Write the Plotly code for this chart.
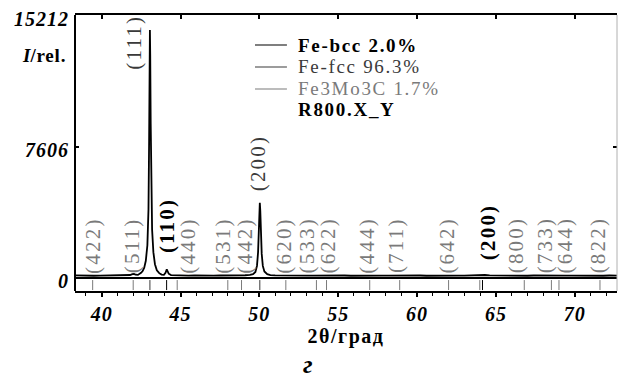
import plotly.graph_objects as go

# Measured diffraction pattern (2θ in degrees, intensity in counts)
two_theta = [
    38.3, 38.7, 39.1, 39.5, 39.9, 40.3, 40.7, 41.1, 41.5, 41.8, 41.95, 42.05, 42.15,
    42.3, 42.5, 42.6, 42.7, 42.8, 42.9, 42.97, 43.01, 43.04, 43.06, 43.08, 43.11,
    43.15, 43.2, 43.28, 43.38, 43.5, 43.65, 43.8,
    43.95, 44.05, 44.1, 44.13, 44.17, 44.25, 44.4, 44.7,
    45.1, 45.5, 45.9, 46.3, 46.7, 47.1, 47.5, 47.9, 48.3, 48.7, 49.1, 49.4,
    49.6, 49.75, 49.85, 49.92, 49.97, 50.01, 50.03, 50.06, 50.1, 50.15, 50.22,
    50.32, 50.5, 50.7,
    51.0, 51.4, 51.8, 52.2, 52.6, 53.0, 53.4, 53.8, 54.2, 54.6, 55.0, 55.4,
    55.8, 56.2, 56.6, 57.0, 57.4, 57.8, 58.2, 58.6, 59.0, 59.4, 59.8, 60.2,
    60.6, 61.0, 61.4, 61.8, 62.2, 62.6, 63.0, 63.4, 63.8, 64.1, 64.3, 64.6,
    65.0, 65.4, 65.8, 66.2, 66.6, 67.0, 67.4, 67.8, 68.2, 68.6, 69.0, 69.4,
    69.8, 70.2, 70.6, 71.0, 71.4, 71.8, 72.2, 72.7,
]
intensity = [
    150, 135, 145, 130, 140, 150, 135, 145, 160, 175, 230, 240, 190,
    180, 300, 400, 600, 1000, 1900, 4000, 8000, 12500, 14400, 13000, 9000,
    5000, 2800, 1500, 800, 450, 280, 200,
    180, 300, 450, 500, 420, 250, 170, 150,
    140, 135, 145, 130, 140, 135, 145, 140, 150, 150, 160, 180,
    220, 350, 700, 1500, 3000, 4100, 4370, 3900, 2600, 1400, 700,
    380, 220, 170,
    150, 140, 135, 145, 130, 140, 135, 145, 130, 140, 135, 145,
    130, 140, 135, 145, 130, 140, 135, 145, 130, 140, 135, 145,
    130, 140, 135, 145, 130, 140, 135, 145, 150, 190, 175, 150,
    140, 130, 145, 135, 140, 130, 145, 135, 140, 130, 145, 135,
    140, 130, 145, 135, 140, 130, 145, 135,
]

# Reflection positions and indices per phase
bcc_name = "Fe-bcc 2.0%"
bcc_pos = [44.12, 64.15]
bcc_hkl = ["(110)", "(200)"]

fcc_name = "Fe-fcc 96.3%"
fcc_pos = [43.06, 50.03]
fcc_hkl = ["(111)", "(200)"]

carb_name = "Fe3Mo3C 1.7%"
carb_pos = [39.43, 42.0, 44.79, 48.0, 48.87, 51.68, 53.62, 54.26, 57.0, 58.9,
            62.0, 63.98, 66.8, 68.52, 69.0, 71.6]
carb_hkl = ["(422)", "(511)", "(440)", "(531)", "(442)", "(620)", "(533)", "(622)",
            "(444)", "(711)", "(642)", "", "(800)", "(733)", "(644)", "(822)"]

sample_name = "R800.X_Y"

x_ticks = [40, 45, 50, 55, 60, 65, 70]
y_ticks = [0, 7606, 15212]
y_tick_text = ["0", "7606", "15212"]

# label placement: (x in 2θ, baseline intensity of the rotated label)
bcc_label_at = [(44.12, 1335), (64.48, 929)]
fcc_label_at = [(42.0, 11960), (49.9, 4935)]
carb_label_x = [39.45, 41.98, 45.47, 47.69, 49.08, 51.55, 53.0, 54.33, 56.81, 58.71,
                61.88, 64.0, 66.3, 68.08, 69.35, 71.44]

C_BCC = "#000000"
C_FCC = "#3a3a3a"
C_CARB = "#7a7a7a"
FONT = "Liberation Serif, serif"


def spaced(text, px=1.5):
    return f"<span style='letter-spacing:{px}px'>{text}</span>"


def bold_italic(text, px=1.0):
    return f"<b><i>{spaced(text, px)}</i></b>"


fig = go.Figure()

fig.add_trace(go.Scatter(
    x=two_theta, y=intensity, mode="lines",
    line=dict(color="black", width=1.8), showlegend=False, hoverinfo="skip",
))


def tick_segments(positions):
    xs, ys = [], []
    for p in positions:
        xs += [p, p, None]
        ys += [-120, -700, None]
    return xs, ys


phases = [
    (bcc_name, bcc_pos, C_BCC, True),
    (fcc_name, fcc_pos, C_FCC, False),
    (carb_name, carb_pos, C_CARB, False),
]
for name, pos, col, _ in phases:
    xs, ys = tick_segments(pos)
    fig.add_trace(go.Scatter(
        x=xs, y=ys, xaxis="x2", mode="lines",
        line=dict(color=col, width=1), name=name, showlegend=False, hoverinfo="skip",
    ))

HKL_SIZE = 21
HKL_GAP = 2.2
annotations = []
for (lx, ly), hkl in zip(bcc_label_at, bcc_hkl):
    annotations.append(dict(x=lx, y=ly, text=f"<b>{spaced(hkl, HKL_GAP)}</b>",
                            textangle=-90,
                            font=dict(size=HKL_SIZE, color=C_BCC, family=FONT)))
for (lx, ly), hkl in zip(fcc_label_at, fcc_hkl):
    annotations.append(dict(x=lx, y=ly, text=spaced(hkl, HKL_GAP), textangle=-90,
                            font=dict(size=HKL_SIZE, color=C_FCC, family=FONT)))
for lx, hkl in zip(carb_label_x, carb_hkl):
    if hkl:
        annotations.append(dict(x=lx, y=150, text=spaced(hkl, HKL_GAP), textangle=-90,
                                font=dict(size=HKL_SIZE, color=C_CARB, family=FONT)))
for a in annotations:
    a.update(xref="x", yref="y", showarrow=False, xanchor="center", yanchor="bottom")

# phase key: sample line + caption, drawn in paper coordinates
key_rows = [0.8913, 0.8116, 0.7319, 0.6558]
shapes = []
for (name, pos, col, bold), ky in zip(phases, key_rows):
    shapes.append(dict(type="line", xref="paper", yref="paper", x0=0.332, x1=0.391,
                       y0=ky, y1=ky, line=dict(color=col, width=1.2)))
    txt = spaced(name, 1.7)
    annotations.append(dict(
        xref="paper", yref="paper", x=0.4077, y=ky, xanchor="left", yanchor="middle",
        text=f"<b>{txt}</b>" if bold else txt, showarrow=False,
        font=dict(size=19, family=FONT, color=col),
    ))
annotations.append(dict(
    xref="paper", yref="paper", x=0.4077, y=key_rows[3], xanchor="left",
    yanchor="middle", text=f"<b>{spaced(sample_name, 1.7)}</b>", showarrow=False,
    font=dict(size=19, family=FONT, color="black"),
))

annotations.append(dict(
    xref="paper", yref="paper", x=-0.013, y=0.855, xanchor="right", yanchor="middle",
    text=f"<b><i>I</i>{spaced('/rel.', 0.8)}</b>", showarrow=False,
    font=dict(size=19, family=FONT),
))
annotations.append(dict(
    xref="paper", yref="paper", x=0.43, y=-0.268, xanchor="center", yanchor="middle",
    text="<b><i>г</i></b>", showarrow=False, font=dict(size=26, family=FONT),
))

shapes += [
    dict(type="line", xref="paper", yref="paper", x0=0, x1=0, y0=0, y1=1,
         line=dict(color="black", width=2)),
    dict(type="line", xref="paper", yref="paper", x0=1, x1=1, y0=0, y1=1,
         line=dict(color="#b0b0b0", width=1)),
]

fig.update_layout(
    width=618, height=383,
    margin=dict(l=75, r=1, t=15, b=92),
    paper_bgcolor="white", plot_bgcolor="white",
    font=dict(family=FONT, color="black"),
    showlegend=False,
    xaxis=dict(
        range=[38.31, 72.68], tickvals=x_ticks,
        ticktext=[bold_italic(str(v)) for v in x_ticks],
        ticks="outside", ticklen=4,
        tickwidth=1.5, tickcolor="black", showline=True, linewidth=2,
        linecolor="black", showgrid=False, zeroline=False,
        tickfont=dict(size=20, family=FONT),
        minor=dict(dtick=1, ticks="outside", ticklen=3, tickwidth=1,
                   tickcolor="black", showgrid=False),
        title=dict(text=f"<b>{spaced('2θ/град', 1.5)}</b>",
                   font=dict(size=20, family=FONT), standoff=2),
    ),
    xaxis2=dict(
        overlaying="x", side="top", matches="x", tickvals=x_ticks, ticks="inside",
        ticklen=4, tickwidth=1.5, tickcolor="black", showticklabels=False,
        showline=True, linewidth=2, linecolor="black", showgrid=False, zeroline=False,
    ),
    yaxis=dict(
        range=[-755, 15270], tickvals=y_ticks,
        ticktext=[bold_italic(t) for t in y_tick_text], ticks="inside",
        ticklen=4, tickwidth=1.5, tickcolor="black", mirror="ticks", showline=False,
        showgrid=False, zeroline=True, zerolinecolor="black", zerolinewidth=2,
        tickfont=dict(size=20, family=FONT),
        ticklabelshift=3, ticklabelstandoff=5,
    ),
    annotations=annotations,
    shapes=shapes,
)

fig.write_html("out.html")
